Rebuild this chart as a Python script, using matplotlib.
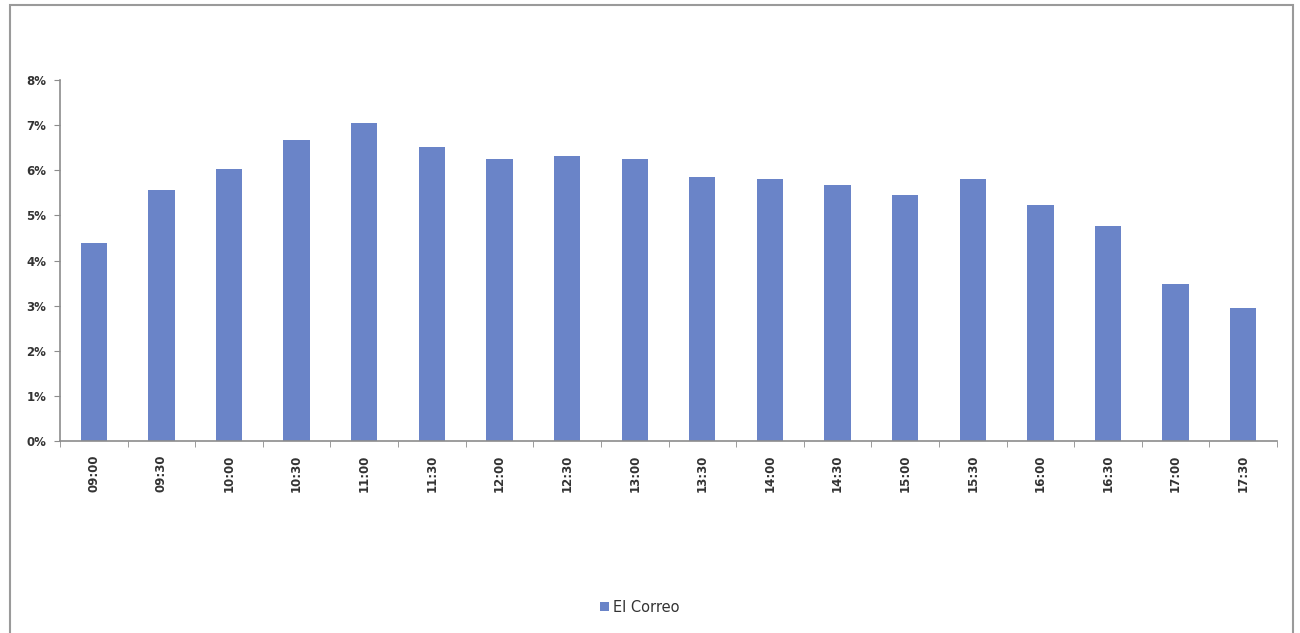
import matplotlib
matplotlib.use("Agg")
import matplotlib.pyplot as plt
from matplotlib.patches import Rectangle
from matplotlib.ticker import FuncFormatter, FixedLocator
import numpy as np

# Datos
times = ["09:00", "09:30", "10:00", "10:30", "11:00", "11:30", "12:00", "12:30", "13:00",
         "13:30", "14:00", "14:30", "15:00", "15:30", "16:00", "16:30", "17:00", "17:30"]
share = [4.39, 5.56, 6.03, 6.67, 7.05, 6.52, 6.25, 6.32, 6.25,
         5.85, 5.81, 5.68, 5.45, 5.81, 5.23, 4.77, 3.48, 2.95]
series_name = "El Correo"

BAR_COLOR = "#6A84C8"
AXIS_COLOR = "#8C8C8C"

fig = plt.figure(figsize=(13, 6.33), dpi=100)
fig.patches.append(Rectangle((10 / 1300, -0.01), 1283 / 1300, 1 - 5 / 633 + 0.01,
                             transform=fig.transFigure, fill=False,
                             edgecolor="#9A9A9A", linewidth=1.5))

ax = fig.add_axes([60 / 1300, 1 - 441 / 633, 1217 / 1300, 361 / 633])
x = np.arange(len(times))
ax.bar(x, share, width=0.39, color=BAR_COLOR, label=series_name, zorder=2)

ax.set_xlim(-0.5, len(times) - 0.5)
ax.set_ylim(0, 8)
ax.set_yticks(range(0, 9))
ax.yaxis.set_major_formatter(FuncFormatter(lambda v, p: f"{int(v)}%"))

ax.set_xticks(x)
ax.set_xticklabels(times, rotation=90)
ax.xaxis.set_minor_locator(FixedLocator(np.arange(-0.5, len(times), 1.0)))
ax.tick_params(axis="x", which="major", length=0, pad=10, labelsize=8.5)
ax.tick_params(axis="x", which="minor", length=4, color=AXIS_COLOR, direction="out")
ax.tick_params(axis="y", length=4, color=AXIS_COLOR, labelsize=8.5, pad=6)

for lbl in ax.get_xticklabels() + ax.get_yticklabels():
    lbl.set_fontweight("bold")
    lbl.set_color("#333333")

for side in ["top", "right"]:
    ax.spines[side].set_visible(False)
for side in ["left", "bottom"]:
    ax.spines[side].set_color(AXIS_COLOR)
    ax.spines[side].set_linewidth(1.2)

fig.legend(loc="center", bbox_to_anchor=(640 / 1300, 1 - 607 / 633), frameon=False,
           handlelength=0.6, handleheight=0.6, handletextpad=0.3, fontsize=10.5,
           labelcolor="#333333")

fig.savefig("out.png", dpi=100)
